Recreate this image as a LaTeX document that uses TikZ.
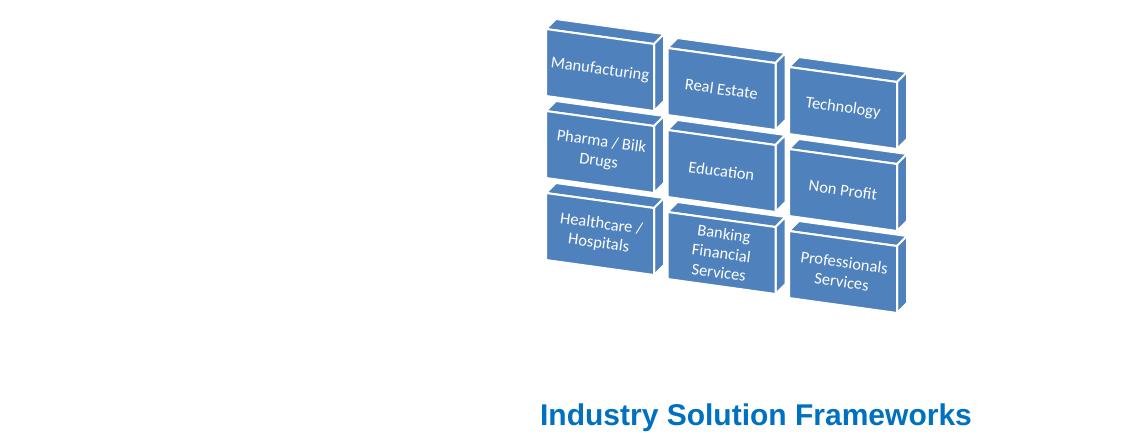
\documentclass[tikz,border=0pt]{standalone}
\usepackage{fontspec}
\setmainfont{Carlito}
\newfontfamily\titlefont{Liberation Sans}
\definecolor{boxblue}{RGB}{79,129,189}
\definecolor{titleblue}{RGB}{0,112,192}

\begin{document}
\begin{tikzpicture}[x=1pt,y=-1pt,
	face/.style={fill=boxblue,draw=white,line width=2pt,line join=round},
	boxtext/.style={text=white,font=\fontsize{16.5}{19.5}\selectfont,align=center,rotate=-7.8},
	heading/.style={text=titleblue,font=\titlefont\bfseries\fontsize{30}{36}\selectfont}]
	\useasboundingbox (0,0) rectangle (1140,445);

	% boxes
	\foreach \c/\r/\txt in {0/0/Manufacturing, 1/0/Real Estate, 2/0/Technology,
		0/1/{Pharma / Bilk\\Drugs}, 1/1/Education, 2/1/Non Profit,
		0/2/{Healthcare /\\Hospitals}, 1/2/{Banking\\Financial\\Services}, 2/2/{Professionals\\Services}}
	{
		\coordinate (box\c\r) at (546+121.5*\c, 29+19*\c+82*\r);
		% top face
		\draw[face] (box\c\r) -- ++(10,-10) -- ++(108,15) -- ++(-10,10) -- cycle;
		% side face
		\draw[face] (box\c\r) ++(108,15) -- ++(10,-10) -- ++(0,67) -- ++(-10,10) -- cycle;
		% front face
		\draw[face] (box\c\r) -- ++(108,15) -- ++(0,67) -- ++(-108,-15) -- cycle;
		% labels
		\draw (box\c\r) ++ (54,41) node[boxtext] (text\c\r) {\txt};
	}

	% title
	\node[heading,anchor=base] (title) at (756,425) {Industry Solution Frameworks};
\end{tikzpicture}
\end{document}
